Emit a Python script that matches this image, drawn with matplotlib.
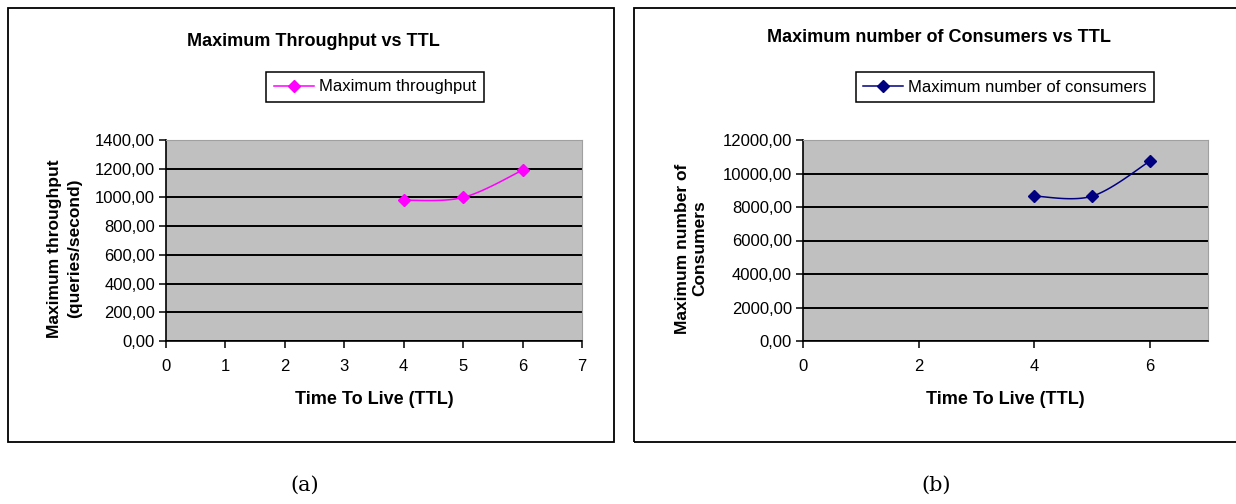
import numpy as np
import matplotlib
matplotlib.use("Agg")
import matplotlib.pyplot as plt
import matplotlib.transforms as mtransforms
from matplotlib.patches import Rectangle
from matplotlib.lines import Line2D

# Data
ttl = [4, 5, 6]
throughput = [980.0, 1000.0, 1190.0]
consumers = [8650.0, 8650.0, 10750.0]

W, H = 1236, 504
fig = plt.figure(figsize=(W / 100, H / 100), dpi=100)
fig.patch.set_facecolor("white")
plt.rcParams["font.family"] = ["Liberation Sans", "DejaVu Sans"]


def fx(px):
    return px / W


def fy(py):
    return 1 - py / H


def smooth(xs, ys, n=40):
    """Bezier smoothing through the points, in the style of spreadsheet 'smoothed line' charts."""
    xs = np.asarray(xs, float)
    ys = np.asarray(ys, float)
    px, py = [], []
    m = len(xs)
    for i in range(m - 1):
        x0, y0 = xs[max(i - 1, 0)], ys[max(i - 1, 0)]
        x1, y1 = xs[i], ys[i]
        x2, y2 = xs[i + 1], ys[i + 1]
        x3, y3 = xs[min(i + 2, m - 1)], ys[min(i + 2, m - 1)]
        c1x, c1y = x1 + (x2 - x0) / 6, y1 + (y2 - y0) / 6
        c2x, c2y = x2 - (x3 - x1) / 6, y2 - (y3 - y1) / 6
        t = np.linspace(0, 1, n)
        bx = (1 - t) ** 3 * x1 + 3 * (1 - t) ** 2 * t * c1x + 3 * (1 - t) * t ** 2 * c2x + t ** 3 * x2
        by = (1 - t) ** 3 * y1 + 3 * (1 - t) ** 2 * t * c1y + 3 * (1 - t) * t ** 2 * c2y + t ** 3 * y2
        px.extend(bx)
        py.extend(by)
    return px, py


def fmt(v, pos=None):
    return f"{v:.2f}".replace(".", ",")


def panel(frame, plot, ymax, ystep, xstep, yvals, color, title, ylabel, legend_label, legend_box,
          title_y, ylabel_x, ylabel_spacing):
    # outer chart frame
    fig.patches.append(Rectangle((fx(frame[0]), fy(frame[3])), fx(frame[2] - frame[0]), (frame[3] - frame[1]) / H,
                                 transform=fig.transFigure, fill=False, edgecolor="black", linewidth=1.3,
                                 zorder=0))
    x0, y0, x1, y1 = plot
    ax = fig.add_axes([fx(x0), fy(y1), fx(x1 - x0), (y1 - y0) / H])
    ax.set_facecolor("#c0c0c0")
    ax.set_xlim(0, 7)
    ax.set_ylim(0, ymax)
    ax.set_yticks(np.arange(0, ymax + 1, ystep))
    ax.set_xticks(np.arange(0, 7.01, xstep))
    ax.yaxis.set_major_formatter(plt.FuncFormatter(fmt))
    ax.grid(axis="y", color="black", linewidth=1.4)
    ax.set_axisbelow(True)
    for s in ("top", "right"):
        ax.spines[s].set_color("#a0a0a0")
        ax.spines[s].set_linewidth(0.8)
    for s in ("left", "bottom"):
        ax.spines[s].set_color("black")
        ax.spines[s].set_linewidth(1.2)
    ax.tick_params(axis="both", direction="out", length=5, width=1.1, labelsize=12, colors="black")
    ax.tick_params(axis="x", pad=8)
    ax.tick_params(axis="y", pad=3)
    sx, sy = smooth(ttl, yvals)
    ax.plot(sx, sy, color=color, linewidth=1.1, zorder=3)
    ax.plot(ttl, yvals, linestyle="none", marker="D", markersize=6.5, color=color, zorder=4)
    ax.set_xlabel("Time To Live (TTL)", fontsize=13, fontweight="bold", labelpad=12)
    ax.set_ylabel(ylabel, fontsize=12.5, fontweight="bold", linespacing=ylabel_spacing)
    ax.yaxis.set_label_coords(fx(ylabel_x), 0.46,
                              transform=mtransforms.blended_transform_factory(fig.transFigure, ax.transAxes))
    fig.text(fx((frame[0] + frame[2]) / 2 + 2), fy(title_y), title, ha="center", va="center",
             fontsize=13, fontweight="bold")
    handle = Line2D([], [], color=color, marker="D", markersize=6, linewidth=1.1)
    lx0, ly0, lx1, ly1 = legend_box
    leg = fig.legend([handle], [legend_label], loc="center",
                     bbox_to_anchor=(fx((lx0 + lx1) / 2), fy((ly0 + ly1) / 2)),
                     bbox_transform=fig.transFigure, frameon=True, fancybox=False,
                     edgecolor="black", framealpha=1, fontsize=12, handlelength=2.4,
                     handletextpad=0.3, borderpad=0.45)
    leg.get_frame().set_linewidth(1.1)
    return ax


panel(frame=(8, 8, 614, 442), plot=(166, 140, 582, 341), ymax=1400, ystep=200, xstep=1,
      yvals=throughput, color="#ff00ff", title="Maximum Throughput vs TTL",
      ylabel="Maximum throughput\n(queries/second)", legend_label="Maximum throughput",
      legend_box=(262, 70, 488, 104), title_y=42, ylabel_x=82, ylabel_spacing=1.4)

panel(frame=(634, 8, 1240, 442), plot=(803, 140, 1208, 341), ymax=12000, ystep=2000, xstep=2,
      yvals=consumers, color="#000080", title="Maximum number of Consumers vs TTL",
      ylabel="Maximum number of\nConsumers", legend_label="Maximum number of consumers",
      legend_box=(850, 70, 1160, 104), title_y=38, ylabel_x=707, ylabel_spacing=1.2)

fig.text(fx(305), fy(485), "(a)", ha="center", va="center", fontsize=15, family="DejaVu Serif")
fig.text(fx(936), fy(485), "(b)", ha="center", va="center", fontsize=15, family="DejaVu Serif")

fig.savefig("out.png", dpi=100)
